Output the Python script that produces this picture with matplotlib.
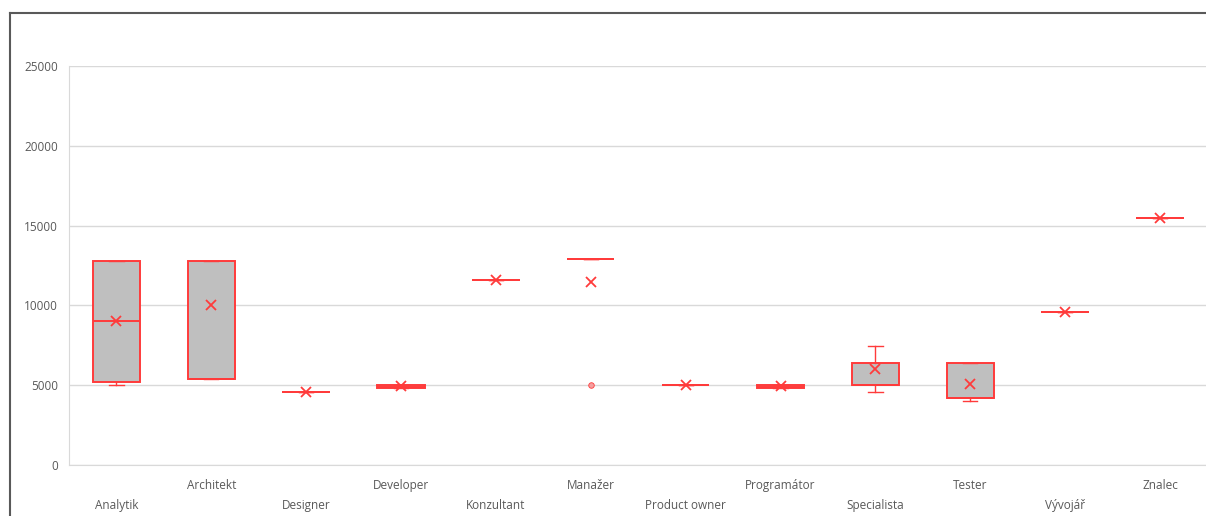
import numpy as np
import matplotlib
matplotlib.use('Agg')
import matplotlib.pyplot as plt
from matplotlib.lines import Line2D

# kategorie (pozice)
categories = ['Analytik', 'Architekt', 'Designer', 'Developer', 'Konzultant', 'Manažer',
              'Product owner', 'Programátor', 'Specialista', 'Tester', 'Vývojář', 'Znalec']

# statistiky krabic
whislo = [5000, 5400, 4600, 4800, 11600, 12900, 5000, 4800, 4550, 4000, 9600, 15500]
q1     = [5200, 5400, 4600, 4800, 11600, 12900, 5000, 4800, 5000, 4200, 9600, 15500]
med    = [9000, 5400, 4600, 4900, 11600, 12900, 5000, 4900, 5000, 4200, 9600, 15500]
q3     = [12800, 12800, 4600, 5000, 11600, 12900, 5000, 5000, 6400, 6400, 9600, 15500]
whishi = [12800, 12800, 4600, 5000, 11600, 12900, 5000, 5000, 7450, 6400, 9600, 15500]
means  = [9000, 10000, 4600, 4950, 11600, 11500, 5000, 4950, 6000, 5100, 9600, 15500]
fliers = [[], [], [], [], [], [5000], [], [], [], [], [], []]

yticks = [0, 5000, 10000, 15000, 20000, 25000]

red = '#FF3B3B'
grid_c = '#D9D9D9'
text_c = '#595959'

stats = []
for i, name in enumerate(categories):
    stats.append(dict(label=name, whislo=whislo[i], q1=q1[i], med=med[i], q3=q3[i],
                      whishi=whishi[i], mean=means[i], fliers=fliers[i]))

fig = plt.figure(figsize=(12.06, 5.16), dpi=100)
ax = fig.add_axes([0.0572, 0.0988, 0.944, 0.773])

pos = np.arange(len(categories))
ax.bxp(stats, positions=pos, widths=0.5, patch_artist=True, showmeans=True,
       boxprops=dict(facecolor='#BFBFBF', edgecolor=red, linewidth=1.4),
       medianprops=dict(color=red, linewidth=1.4),
       whiskerprops=dict(color=red, linewidth=1.0),
       capprops=dict(color=red, linewidth=1.0),
       meanprops=dict(marker='x', markeredgecolor=red, markersize=7, markeredgewidth=1.3),
       flierprops=dict(marker='o', markerfacecolor='#F4A0A0', markeredgecolor=red,
                       markersize=4, markeredgewidth=0.6),
       capwidths=0.15)

ax.set_xlim(-0.5, len(categories) - 0.5)
ax.set_ylim(0, 25000)
ax.set_yticks(yticks)
ax.set_yticklabels([str(v) for v in yticks], fontsize=8.5, color=text_c, family='Open Sans')
ax.grid(axis='y', color=grid_c, linewidth=1.0)
ax.set_axisbelow(True)

for s in ['top', 'right']:
    ax.spines[s].set_visible(False)
ax.spines['left'].set_color(grid_c)
ax.spines['bottom'].set_color(grid_c)
ax.tick_params(axis='both', length=0, pad=8)

# popisky ve dvou řadách
ax.set_xticks([])
for i, name in enumerate(categories):
    yoff = -0.052 if i % 2 == 1 else -0.102
    ax.text(pos[i], yoff, name, transform=ax.get_xaxis_transform(), ha='center', va='center',
            fontsize=8.5, color=text_c, family='Open Sans', clip_on=False)

# rámeček snímku
fig.add_artist(Line2D([10 / 1206, 10 / 1206], [0, 1 - 13 / 516], color='#595959', linewidth=1.5))
fig.add_artist(Line2D([10 / 1206, 1], [1 - 13 / 516, 1 - 13 / 516], color='#595959', linewidth=1.5))

fig.savefig('out.png', dpi=100)
